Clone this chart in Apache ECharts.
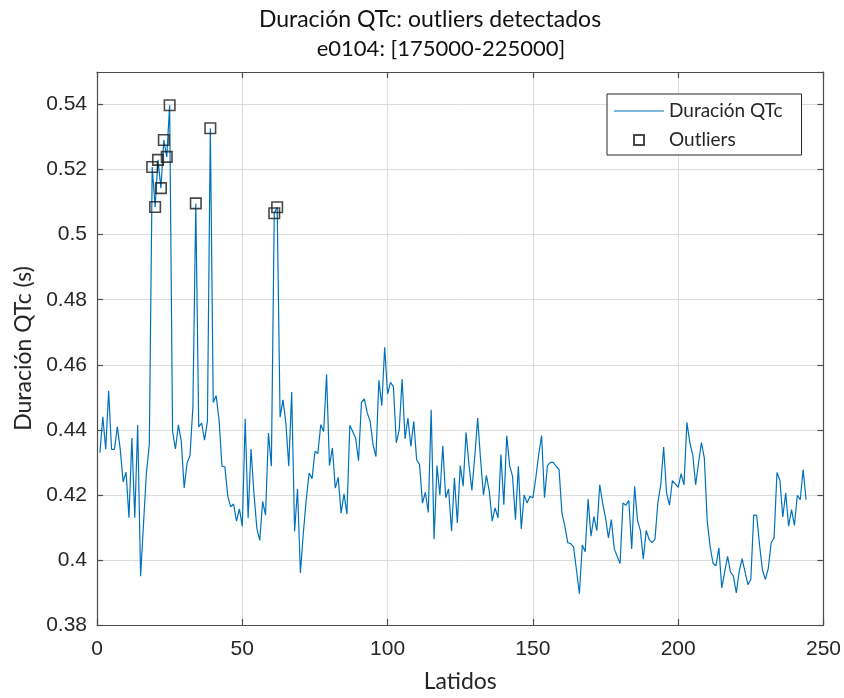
<!DOCTYPE html>
<html>
<head>
<meta charset="utf-8">
<script src="https://cdn.jsdelivr.net/npm/echarts@6/dist/echarts.min.js"></script>
<style>
html,body{margin:0;padding:0;background:#fff;}
#chart{width:844px;height:698px;}
</style>
</head>
<body>
<div id="chart"></div>
<script>
// QTc duration per beat (beat index starts at 1)
const qtcValues = [
0.433,0.444,0.434,0.452,0.434,0.434,0.441,0.434,0.424,0.427,
0.413,0.4375,0.413,0.4415,0.395,0.411,0.4267,0.4355,0.5208,0.5085,
0.523,0.5143,0.5291,0.5239,0.5398,0.4395,0.4341,0.4415,0.4365,0.4221,
0.4298,0.4321,0.447,0.5096,0.4409,0.4421,0.4368,0.4426,0.5327,0.4484,
0.4505,0.4431,0.4288,0.4286,0.4196,0.4163,0.4172,0.4119,0.4157,0.4104,
0.4434,0.4129,0.4341,0.4206,0.4098,0.406,0.418,0.4138,0.439,0.4288,
0.5066,0.5084,0.4439,0.4492,0.442,0.4288,0.4516,0.4088,0.4218,0.396,
0.4083,0.4185,0.4267,0.425,0.4334,0.4327,0.4416,0.4395,0.4571,0.429,
0.4344,0.4221,0.4254,0.4144,0.4203,0.4141,0.4414,0.4395,0.4375,0.4305,
0.4484,0.4495,0.4452,0.4426,0.4354,0.4318,0.4552,0.4474,0.4654,0.451,
0.4546,0.4533,0.436,0.44,0.4556,0.4372,0.4436,0.4349,0.4426,0.4308,
0.4293,0.4175,0.4208,0.4146,0.4462,0.4064,0.429,0.4199,0.4351,0.4191,
0.4218,0.4088,0.4252,0.4114,0.429,0.4227,0.4392,0.4293,0.4214,0.4318,
0.4436,0.4308,0.4199,0.426,0.4211,0.4119,0.416,0.4129,0.4324,0.417,
0.4382,0.429,0.4257,0.4124,0.4288,0.4095,0.42,0.4175,0.4196,0.4191,
0.4252,0.4324,0.4382,0.4191,0.429,0.43,0.43,0.4288,0.4278,0.4144,
0.4104,0.4053,0.405,0.404,0.3969,0.3896,0.4046,0.4025,0.4187,0.4073,
0.4133,0.409,0.4231,0.4175,0.4129,0.4068,0.4124,0.4034,0.4011,0.3989,
0.4175,0.4168,0.4183,0.4034,0.4226,0.4121,0.409,0.4003,0.4091,0.4063,
0.4053,0.4063,0.4175,0.4231,0.4347,0.4206,0.4168,0.4244,0.4234,0.4223,
0.4265,0.4231,0.4423,0.4361,0.4324,0.4231,0.4298,0.4361,0.4313,0.4119,
0.404,0.3989,0.3982,0.4037,0.3914,0.3963,0.4011,0.3963,0.395,0.3899,
0.3965,0.4004,0.3963,0.3924,0.394,0.4138,0.4138,0.4046,0.3969,0.394,
0.3974,0.4053,0.4068,0.4269,0.4245,0.4132,0.4206,0.4104,0.4155,0.4106,
0.4199,0.4185,0.4278,0.4185
];
const outlierX = [19,20,21,22,23,24,25,34,39,61,62];
const outlierY = [0.5208,0.5085,0.523,0.5143,0.5291,0.5239,0.5398,0.5096,0.5327,0.5066,0.5084];
const yTicks = [0.38,0.40,0.42,0.44,0.46,0.48,0.50,0.52,0.54];

const lineData = qtcValues.map((v,i)=>[i+1,v]);
const outlierData = outlierX.map((x,i)=>[x,outlierY[i]]);

const FONT = 'Lato';
const NUMFONT = 'Liberation Sans';
const AX = '#4d4d4d';
const TXT = '#262626';
const GRIDC = '#dcdcdc';

const chart = echarts.init(document.getElementById('chart'), null, {renderer:'canvas'});
const yFmt = v => { const r = Math.round(v*100)/100; return yTicks.some(t=>Math.abs(t-r)<1e-9) ? String(r) : ''; };
const baseX = {
  type:'value', min:0, max:250, interval:50,
  axisLine:{show:true, onZero:false, lineStyle:{color:AX, width:1.2}},
  axisTick:{show:true, inside:true, length:6, lineStyle:{color:AX, width:1.2}},
  splitLine:{show:false}
};
const baseY = {
  type:'value', min:0.38, max:0.55, interval:0.02,
  axisLine:{show:true, onZero:false, lineStyle:{color:AX, width:1.2}},
  axisTick:{show:true, inside:true, length:6, lineStyle:{color:AX, width:1.2}},
  splitLine:{show:false}
};
chart.setOption({
  backgroundColor:'#fff',
  animation:false,
  title:[
    {text:'Duración QTc: outliers detectados', left:425, top:3, textAlign:'center',
     textStyle:{fontFamily:FONT, fontSize:23, fontWeight:'normal', color:'#111'}},
    {text:'e0104: [175000-225000]', left:436, top:33, textAlign:'center',
     textStyle:{fontFamily:FONT, fontSize:22, fontWeight:'normal', color:'#111'}}
  ],
  grid:{left:97, right:19, top:72, bottom:71, containLabel:false},
  legend:{
    orient:'vertical', left:607, top:94,
    padding:[7,19,5,7], itemGap:9, itemWidth:50, itemHeight:10,
    borderColor:'#262626', borderWidth:1, backgroundColor:'#fff',
    textStyle:{fontFamily:FONT, fontSize:19, color:TXT, lineHeight:20},
    data:[
      {name:'Duración QTc', icon:'path://M0,0h50v1.2h-50z', itemStyle:{color:'#0072BD'}},
      {name:'Outliers', icon:'path://M0,0h10v10h-10z'}
    ]
  },
  xAxis:[
    Object.assign({}, baseX, {
      position:'bottom',
      name:'Latidos', nameLocation:'middle', nameGap:45,
      nameTextStyle:{fontFamily:FONT, fontSize:23, color:TXT},
      axisLabel:{fontFamily:NUMFONT, fontSize:21, color:TXT, margin:14},
      splitLine:{show:true, lineStyle:{color:GRIDC, width:1}}
    }),
    Object.assign({}, baseX, {position:'top', axisLabel:{show:false}})
  ],
  yAxis:[
    Object.assign({}, baseY, {
      position:'left',
      name:'Duración QTc (s)', nameLocation:'middle', nameGap:62,
      nameTextStyle:{fontFamily:FONT, fontSize:23, color:TXT},
      axisLabel:{fontFamily:NUMFONT, fontSize:21, color:TXT, margin:10, formatter:yFmt, showMaxLabel:false},
      splitLine:{show:true, lineStyle:{color:GRIDC, width:1}}
    }),
    Object.assign({}, baseY, {position:'right', axisLabel:{show:false}})
  ],
  series:[
    {
      name:'Duración QTc', type:'line', data:lineData,
      xAxisIndex:0, yAxisIndex:0,
      symbol:'none', showSymbol:false,
      lineStyle:{color:'#0072BD', width:1.2},
      itemStyle:{color:'#0072BD'},
      z:2
    },
    {
      name:'Outliers', type:'scatter', data:outlierData,
      xAxisIndex:0, yAxisIndex:0,
      symbol:'rect', symbolSize:10.5,
      itemStyle:{color:'rgba(255,255,255,0)', borderColor:'#1a1a1a', borderWidth:1.6},
      z:3
    }
  ]
});
</script>
</body>
</html>
